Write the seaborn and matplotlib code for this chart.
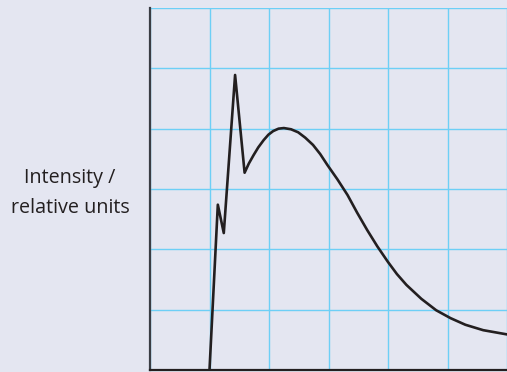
import numpy as np
import pandas as pd
import matplotlib
matplotlib.use('Agg')
import matplotlib.pyplot as plt
import seaborn as sns

# curve, in grid-cell units
x_vals = [1.00, 1.14, 1.24, 1.43, 1.59, 1.66, 1.74, 1.82, 1.91, 1.99, 2.07, 2.16, 2.25, 2.37,
          2.49, 2.61, 2.74, 2.86, 2.98, 3.15, 3.32, 3.48, 3.65, 3.82, 4.00, 4.15, 4.31,
          4.56, 4.81, 5.05, 5.30, 5.60, 6.00]
y_vals = [0.00, 2.74, 2.27, 4.89, 3.27, 3.42, 3.56, 3.69, 3.81, 3.90, 3.96, 4.00, 4.01, 3.99,
          3.94, 3.85, 3.73, 3.58, 3.40, 3.16, 2.90, 2.61, 2.32, 2.05, 1.79, 1.59, 1.41,
          1.18, 0.99, 0.86, 0.75, 0.66, 0.59]
grid_ticks = [0, 1, 2, 3, 4, 5, 6]
y_label = 'Intensity /\nrelative units'

df = pd.DataFrame({'x': x_vals, 'y': y_vals})

bg = '#e4e6f1'
sns.set_style('white', {'axes.facecolor': bg, 'figure.facecolor': bg})
plt.rcParams['font.family'] = ['Open Sans', 'DejaVu Sans']

fig = plt.figure(figsize=(5.07, 3.72), dpi=100)
ax = fig.add_axes([150 / 507, 2 / 372, 357 / 507, 362 / 372])

sns.lineplot(data=df, x='x', y='y', sort=False, color='#231f20', linewidth=1.9, ax=ax)

ax.set_xlim(0, 357 / 60.33)
ax.set_ylim(0, 6)
ax.set_xticks(grid_ticks)
ax.set_yticks(grid_ticks)
ax.grid(True, color='#6dcff6', linewidth=1.0)
ax.set_axisbelow(True)
ax.tick_params(length=0, labelbottom=False, labelleft=False)
ax.set_xlabel('')
ax.set_ylabel('')
for side in ['top', 'right']:
    ax.spines[side].set_visible(False)
ax.spines['left'].set_color('#3a3d44')
ax.spines['bottom'].set_color('#231f20')
ax.spines['left'].set_linewidth(1.6)
ax.spines['bottom'].set_linewidth(1.6)

fig.text(70 / 507, 1 - 193 / 372, y_label, ha='center', va='center',
         fontsize=14.2, color='#231f20', linespacing=1.72)

fig.savefig('out.png', dpi=100, facecolor=bg)
